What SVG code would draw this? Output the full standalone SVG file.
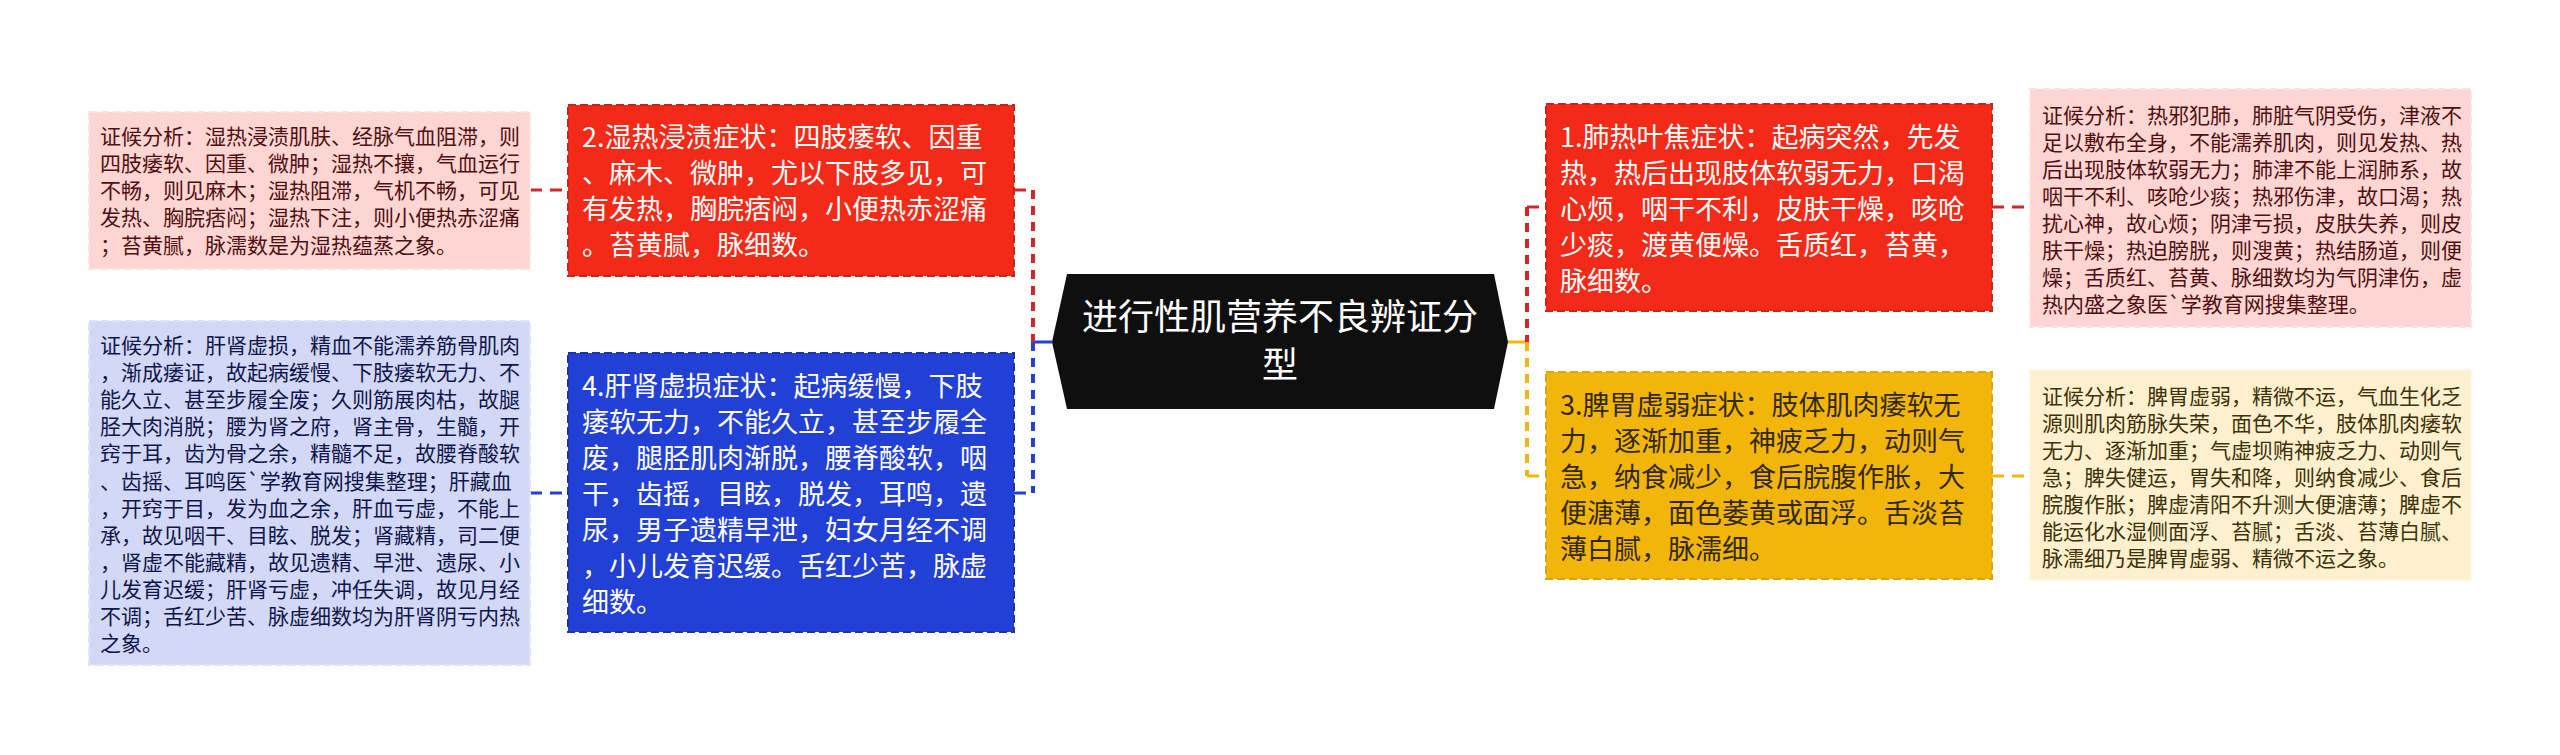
<svg xmlns="http://www.w3.org/2000/svg" width="2560" height="755" viewBox="0 0 2560 755">
<style>
text{font-family:"Noto Sans CJK SC","Noto Sans",sans-serif}
.n{font-size:21px}
.m{font-size:27px}
.c{font-size:36px;fill:#fff;text-anchor:middle}
.conn{fill:none;stroke-width:3;stroke-dasharray:12 8}
.v{fill:none;stroke-width:4;stroke-dasharray:9 7}
.b{stroke-width:2;stroke-dasharray:8 4}
</style>
<rect width="2560" height="755" fill="#fff"/>
<g id="connectors">
<path class="conn" stroke="#d0282a" d="M530 190H568"/>
<path class="conn" stroke="#2340d6" d="M530 493H568"/>
<path class="conn" stroke="#d0282a" d="M1992 207H2030"/>
<path class="conn" stroke="#f2b60a" d="M1992 476H2030"/>
<path class="conn" stroke="#d0282a" d="M1014 190H1033"/>
<path class="conn" stroke="#2340d6" d="M1014 493H1033"/>
<path fill="none" stroke-width="3" stroke="#2340d6" d="M1033 342H1052"/>
<path class="v" stroke="#d0282a" d="M1033 190V342"/>
<path class="v" stroke="#2340d6" d="M1033 342V493"/>
<path class="conn" stroke="#d0282a" d="M1527 207H1546"/>
<path class="conn" stroke="#f2b60a" d="M1527 476H1546"/>
<path fill="none" stroke-width="3" stroke="#f2b60a" d="M1508 342H1527"/>
<path class="v" stroke="#d0282a" d="M1527 207V342"/>
<path class="v" stroke="#f2b60a" d="M1527 342V476"/>
</g>
<g id="center">
<polygon points="1052,342 1067,274 1494,274 1508,342 1494,409 1067,409" fill="#0f0f0f"/>
<text class="c" x="1280" y="330">进行性肌营养不良辨证分</text>
<text class="c" x="1280" y="378">型</text>
</g>
<g id="node2">
<rect class="b" x="568" y="105" width="446" height="171" fill="#f32a17" stroke="#c9231c"/>
<g class="m" fill="#fff">
<text x="582" y="147">2.湿热浸渍症状&#65306;四肢痿软、因重</text>
<text x="582" y="183">、麻木、微肿&#65292;尤以下肢多见&#65292;可</text>
<text x="582" y="219">有发热&#65292;胸脘痞闷&#65292;小便热赤涩痛</text>
<text x="582" y="255">。苔黄腻&#65292;脉细数。</text>
</g>
</g>
<g id="node4">
<rect class="b" x="568" y="353" width="446" height="279" fill="#2340d6" stroke="#1c33a8"/>
<g class="m" fill="#fff">
<text x="582" y="396">4.肝肾虚损症状&#65306;起病缓慢&#65292;下肢</text>
<text x="582" y="432">痿软无力&#65292;不能久立&#65292;甚至步履全</text>
<text x="582" y="468">废&#65292;腿胫肌肉渐脱&#65292;腰脊酸软&#65292;咽</text>
<text x="582" y="504">干&#65292;齿摇&#65292;目眩&#65292;脱发&#65292;耳鸣&#65292;遗</text>
<text x="582" y="540">尿&#65292;男子遗精早泄&#65292;妇女月经不调</text>
<text x="582" y="576">&#65292;小儿发育迟缓。舌红少苦&#65292;脉虚</text>
<text x="582" y="612">细数。</text>
</g>
</g>
<g id="node1">
<rect class="b" x="1546" y="104" width="446" height="207" fill="#f32a17" stroke="#c9231c"/>
<g class="m" fill="#fff">
<text x="1560" y="147">1.肺热叶焦症状&#65306;起病突然&#65292;先发</text>
<text x="1560" y="183">热&#65292;热后出现肢体软弱无力&#65292;口渴</text>
<text x="1560" y="219">心烦&#65292;咽干不利&#65292;皮肤干燥&#65292;咳呛</text>
<text x="1560" y="255">少痰&#65292;渡黄便燥。舌质红&#65292;苔黄&#65292;</text>
<text x="1560" y="291">脉细数。</text>
</g>
</g>
<g id="node3">
<rect class="b" x="1546" y="372" width="446" height="207" fill="#f2b60a" stroke="#d9a40c"/>
<g class="m" fill="#33290a">
<text x="1560" y="415">3.脾胃虚弱症状&#65306;肢体肌肉痿软无</text>
<text x="1560" y="451">力&#65292;逐渐加重&#65292;神疲乏力&#65292;动则气</text>
<text x="1560" y="487">急&#65292;纳食减少&#65292;食后脘腹作胀&#65292;大</text>
<text x="1560" y="523">便溏薄&#65292;面色萎黄或面浮。舌淡苔</text>
<text x="1560" y="559">薄白腻&#65292;脉濡细。</text>
</g>
</g>
<g id="note2">
<rect class="b" x="89" y="112" width="441" height="157" fill="#fdd5d3" stroke="#fde3e1"/>
<g class="n" fill="#4f1010">
<text x="100" y="144">证候分析&#65306;湿热浸渍肌肤、经脉气血阻滞&#65292;则</text>
<text x="100" y="171">四肢痿软、因重、微肿&#65307;湿热不攘&#65292;气血运行</text>
<text x="100" y="198">不畅&#65292;则见麻木&#65307;湿热阻滞&#65292;气机不畅&#65292;可见</text>
<text x="100" y="225">发热、胸脘痞闷&#65307;湿热下注&#65292;则小便热赤涩痛</text>
<text x="100" y="253">&#65307;苔黄腻&#65292;脉濡数是为湿热蕴蒸之象。</text>
</g>
</g>
<g id="note4">
<rect class="b" x="89" y="321" width="441" height="344" fill="#d2d8f6" stroke="#e0e4f9"/>
<g class="n" fill="#10164a">
<text x="100" y="353">证候分析&#65306;肝肾虚损&#65292;精血不能濡养筋骨肌肉</text>
<text x="100" y="380">&#65292;渐成痿证&#65292;故起病缓慢、下肢痿软无力、不</text>
<text x="100" y="407">能久立、甚至步履全废&#65307;久则筋展肉枯&#65292;故腿</text>
<text x="100" y="434">胫大肉消脱&#65307;腰为肾之府&#65292;肾主骨&#65292;生髓&#65292;开</text>
<text x="100" y="461">窍于耳&#65292;齿为骨之余&#65292;精髓不足&#65292;故腰脊酸软</text>
<text x="100" y="489">、齿摇、耳鸣医`学教育网搜集整理&#65307;肝藏血</text>
<text x="100" y="516">&#65292;开窍于目&#65292;发为血之余&#65292;肝血亏虚&#65292;不能上</text>
<text x="100" y="543">承&#65292;故见咽干、目眩、脱发&#65307;肾藏精&#65292;司二便</text>
<text x="100" y="570">&#65292;肾虚不能藏精&#65292;故见遗精、早泄、遗尿、小</text>
<text x="100" y="597">儿发育迟缓&#65307;肝肾亏虚&#65292;冲任失调&#65292;故见月经</text>
<text x="100" y="624">不调&#65307;舌红少苦、脉虚细数均为肝肾阴亏内热</text>
<text x="100" y="651">之象。</text>
</g>
</g>
<g id="note1">
<rect class="b" x="2030" y="89" width="441" height="238" fill="#fdd5d3" stroke="#fde3e1"/>
<g class="n" fill="#4f1010">
<text x="2042" y="123">证候分析&#65306;热邪犯肺&#65292;肺脏气阴受伤&#65292;津液不</text>
<text x="2042" y="150">足以敷布全身&#65292;不能濡养肌肉&#65292;则见发热、热</text>
<text x="2042" y="177">后出现肢体软弱无力&#65307;肺津不能上润肺系&#65292;故</text>
<text x="2042" y="204">咽干不利、咳呛少痰&#65307;热邪伤津&#65292;故口渴&#65307;热</text>
<text x="2042" y="231">扰心神&#65292;故心烦&#65307;阴津亏损&#65292;皮肤失养&#65292;则皮</text>
<text x="2042" y="258">肤干燥&#65307;热迫膀胱&#65292;则溲黄&#65307;热结肠道&#65292;则便</text>
<text x="2042" y="285">燥&#65307;舌质红、苔黄、脉细数均为气阴津伤&#65292;虚</text>
<text x="2042" y="312">热内盛之象医`学教育网搜集整理。</text>
</g>
</g>
<g id="note3">
<rect class="b" x="2030" y="370" width="441" height="210" fill="#fdf0cf" stroke="#fef6e2"/>
<g class="n" fill="#3d3208">
<text x="2042" y="404">证候分析&#65306;脾胃虚弱&#65292;精微不运&#65292;气血生化乏</text>
<text x="2042" y="431">源则肌肉筋脉失荣&#65292;面色不华&#65292;肢体肌肉痿软</text>
<text x="2042" y="458">无力、逐渐加重&#65307;气虚坝贿神疲乏力、动则气</text>
<text x="2042" y="485">急&#65307;脾失健运&#65292;胃失和降&#65292;则纳食减少、食后</text>
<text x="2042" y="512">脘腹作胀&#65307;脾虚清阳不升测大便溏薄&#65307;脾虚不</text>
<text x="2042" y="539">能运化水湿侧面浮、苔腻&#65307;舌淡、苔薄白腻、</text>
<text x="2042" y="566">脉濡细乃是脾胃虚弱、精微不运之象。</text>
</g>
</g>
</svg>
